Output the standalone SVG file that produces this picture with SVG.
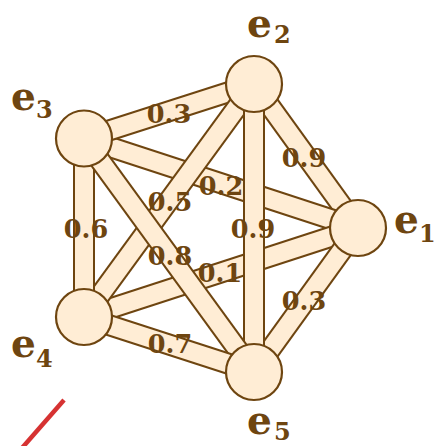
<svg xmlns="http://www.w3.org/2000/svg" width="442" height="446" viewBox="0 0 442 446">
<style>
.o{stroke:#6e4510;stroke-width:22;fill:none}
.i{stroke:#ffedd5;stroke-width:18;fill:none}
.n{fill:#ffedd5;stroke:#6e4510;stroke-width:2.2}
.w{font-family:"DejaVu Serif","Liberation Serif",serif;font-weight:bold;font-size:25.5px;fill:#6e4510;text-anchor:middle}
.l{font-family:"DejaVu Serif","Liberation Serif",serif;font-weight:bold;font-size:39px;fill:#6e4510}
.s{font-size:24px}
</style>
<rect width="442" height="446" fill="#ffffff"/>
<g id="connectors">
<g id="e1-e2"><path class="o" d="M358 228L254 84"/><path class="i" d="M358 228L254 84"/></g>
<g id="e1-e3"><path class="o" d="M358 228L84 138.5"/><path class="i" d="M358 228L84 138.5"/></g>
<g id="e1-e4"><path class="o" d="M358 228L84 317"/><path class="i" d="M358 228L84 317"/></g>
<g id="e1-e5"><path class="o" d="M358 228L254 372"/><path class="i" d="M358 228L254 372"/></g>
<g id="e2-e3"><path class="o" d="M254 84L84 138.5"/><path class="i" d="M254 84L84 138.5"/></g>
<g id="e2-e4"><path class="o" d="M254 84L84 317"/><path class="i" d="M254 84L84 317"/></g>
<g id="e2-e5"><path class="o" d="M254 84L254 372"/><path class="i" d="M254 84L254 372"/></g>
<g id="e3-e4"><path class="o" d="M84 138.5L84 317"/><path class="i" d="M84 138.5L84 317"/></g>
<g id="e3-e5"><path class="o" d="M84 138.5L254 372"/><path class="i" d="M84 138.5L254 372"/></g>
<g id="e4-e5"><path class="o" d="M84 317L254 372"/><path class="i" d="M84 317L254 372"/></g>
</g>
<g id="nodes">
<g id="n1"><circle class="n" cx="358" cy="228" r="28"/><text class="l" x="394" y="233">e<tspan class="s" x="419" y="242">1</tspan></text></g>
<g id="n2"><circle class="n" cx="254" cy="84" r="28"/><text class="l" x="247" y="37">e<tspan class="s" x="274" y="43">2</tspan></text></g>
<g id="n3"><circle class="n" cx="84" cy="138.5" r="28"/><text class="l" x="11" y="110">e<tspan class="s" x="36" y="118">3</tspan></text></g>
<g id="n4"><circle class="n" cx="84" cy="317" r="28"/><text class="l" x="11" y="357">e<tspan class="s" x="36" y="367">4</tspan></text></g>
<g id="n5"><circle class="n" cx="254" cy="372" r="28"/><text class="l" x="247" y="434">e<tspan class="s" x="274" y="440">5</tspan></text></g>
</g>
<g id="weights">
<text class="w" x="169" y="123">0.3</text>
<text class="w" x="304" y="167">0.9</text>
<text class="w" x="221" y="195">0.2</text>
<text class="w" x="170" y="211">0.5</text>
<text class="w" x="86" y="238">0.6</text>
<text class="w" x="253" y="238">0.9</text>
<text class="w" x="170" y="265">0.8</text>
<text class="w" x="220" y="282">0.1</text>
<text class="w" x="304" y="310">0.3</text>
<text class="w" x="170" y="353">0.7</text>
</g>
<line x1="64" y1="400" x2="22" y2="448" stroke="#d63232" stroke-width="4.5"/>
</svg>
